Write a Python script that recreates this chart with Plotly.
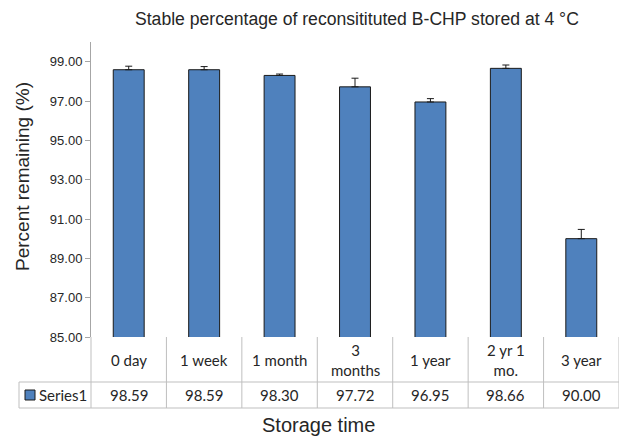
import plotly.graph_objects as go

categories = ["0 day", "1 week", "1 month", "3 months", "1 year", "2 yr 1 mo.", "3 year"]
header_labels = ["0 day", "1 week", "1 month", "3<br>months", "1 year", "2 yr 1<br>mo.", "3 year"]
values = [98.59, 98.59, 98.30, 97.72, 96.95, 98.66, 90.00]
errors = [0.18, 0.16, 0.07, 0.44, 0.17, 0.17, 0.47]
series_name = "Series1"
y_ticks = [85, 87, 89, 91, 93, 95, 97, 99]

W, H = 619, 436
ML, MR, MT, MB = 91, 0, 42, 99
PW = W - ML - MR
PH = H - MT - MB

def px_x(p):
    return (p - ML) / PW

def px_y(p):
    return (H - MB - p) / PH

BAR = "#4F81BD"
GRID = "#BFBFBF"
TXT = "#262626"

fig = go.Figure()
fig.add_trace(go.Bar(
    x=categories, y=values,
    marker=dict(color=BAR, line=dict(color="#1a1a1a", width=1)),
    width=0.41,
    error_y=dict(type="data", array=errors, symmetric=False, arrayminus=[0]*len(errors),
                 color="#1a1a1a", thickness=1, width=3.5),
    showlegend=False,
    hoverinfo="skip",
))

shapes = []
n = len(categories)
row1 = px_y(382)
row2 = px_y(408)
left = px_x(19)
for i in range(n + 1):
    shapes.append(dict(type="line", xref="paper", yref="paper", x0=i / n, x1=i / n,
                       y0=0, y1=row2, line=dict(color=GRID, width=1)))
for yy in (row1, row2):
    shapes.append(dict(type="line", xref="paper", yref="paper", x0=left, x1=1,
                       y0=yy, y1=yy, line=dict(color=GRID, width=1)))
shapes.append(dict(type="line", xref="paper", yref="paper", x0=left, x1=left,
                   y0=row1, y1=row2, line=dict(color=GRID, width=1)))
shapes.append(dict(type="rect", xref="paper", yref="paper", x0=px_x(25), x1=px_x(35),
                   y0=px_y(400), y1=px_y(390), fillcolor=BAR, line=dict(color="#1a1a1a", width=1)))

annotations = []
tfont = dict(family="Lato, Carlito, sans-serif", size=15, color=TXT)
for c, lab, v in zip(categories, header_labels, values):
    annotations.append(dict(x=c, xref="x", y=px_y(360), yref="paper", text=lab, showarrow=False,
                            font=tfont, xanchor="center", yanchor="middle"))
    annotations.append(dict(x=c, xref="x", y=px_y(395), yref="paper", text=f"{v:.2f}", showarrow=False,
                            font=tfont, xanchor="center", yanchor="middle"))
annotations.append(dict(x=px_x(37), xref="paper", y=px_y(395), yref="paper", text=series_name,
                        showarrow=False, font=tfont, xanchor="left", yanchor="middle"))
annotations.append(dict(x=px_x(318), xref="paper", y=px_y(425), yref="paper", text="Storage time",
                        showarrow=False, font=dict(family="Arial, Liberation Sans, sans-serif", size=20, color=TXT),
                        xanchor="center", yanchor="middle"))
annotations.append(dict(x=px_x(22), xref="paper", y=px_y(177), yref="paper", text="Percent remaining (%)",
                        textangle=-90, showarrow=False,
                        font=dict(family="Arial, Liberation Sans, sans-serif", size=19, color=TXT),
                        xanchor="center", yanchor="middle"))
annotations.append(dict(x=px_x(357), xref="paper", y=px_y(19), yref="paper",
                        text="Stable percentage of reconsitituted B-CHP stored at 4 °C",
                        showarrow=False, font=dict(family="Arial, Liberation Sans, sans-serif", size=17.6, color=TXT),
                        xanchor="center", yanchor="middle"))

fig.update_layout(
    width=W, height=H,
    margin=dict(l=ML, r=MR, t=MT, b=MB, pad=0),
    paper_bgcolor="white", plot_bgcolor="white",
    shapes=shapes, annotations=annotations,
    xaxis=dict(type="category", categoryorder="array", categoryarray=categories,
               range=[-0.5, n - 0.5], showticklabels=False, ticks="", showgrid=False,
               showline=False, zeroline=False, fixedrange=True),
    yaxis=dict(range=[85, 100], tickvals=y_ticks, ticktext=[f"{t:.2f}" for t in y_ticks],
               showgrid=False, zeroline=False, showline=True, linecolor="#A6A6A6", linewidth=1,
               ticks="outside", ticklen=5, tickcolor="#A6A6A6",
               tickfont=dict(family="Arial, Liberation Sans, sans-serif", size=13, color=TXT)),
    bargap=0.59,
)

fig.write_html("out.html", config={"displayModeBar": False},
               post_script="document.body.style.margin='0';document.body.style.padding='0';document.body.style.overflow='hidden';")
